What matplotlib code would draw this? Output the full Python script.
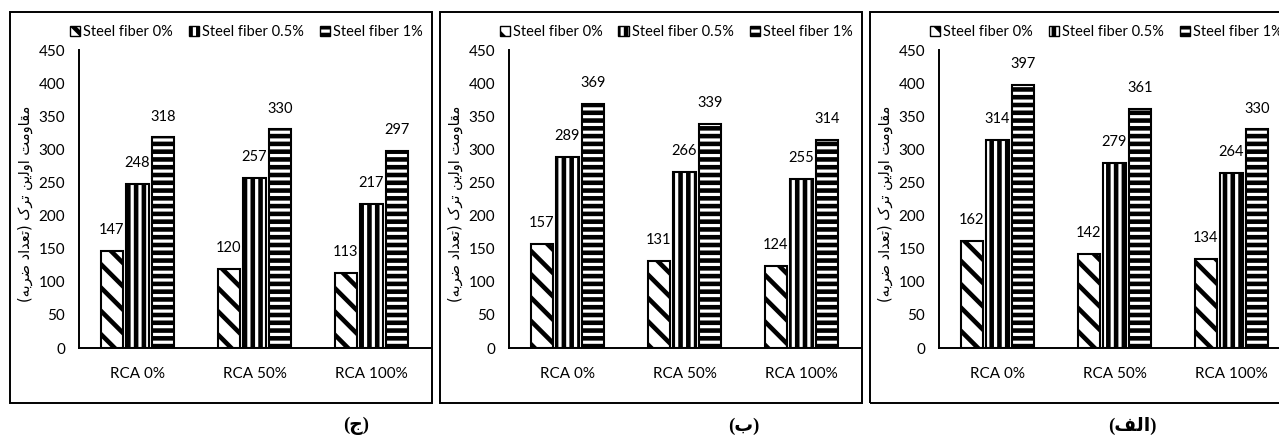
import matplotlib
matplotlib.use("Agg")
import matplotlib.pyplot as plt
from matplotlib.patches import Rectangle, Patch
import numpy as np

# render at dpi 140 so that the hatch spacing gets close to the original;
# all point sizes are scaled by S to keep the pixel sizes
DPI = 140
S = 100 / DPI

plt.rcParams['font.family'] = ['Lato', 'DejaVu Sans']
plt.rcParams['hatch.linewidth'] = 3.3 * S

# categories and series
categories = ["RCA 0%", "RCA 50%", "RCA 100%"]
series_names = ["Steel fiber 0%", "Steel fiber 0.5%", "Steel fiber 1%"]

# panel (ج) - left
panel_c_0 = [147, 120, 113]
panel_c_05 = [248, 257, 217]
panel_c_1 = [318, 330, 297]
# panel (ب) - middle
panel_b_0 = [157, 131, 124]
panel_b_05 = [289, 266, 255]
panel_b_1 = [369, 339, 314]
# panel (الف) - right
panel_a_0 = [162, 142, 134]
panel_a_05 = [314, 279, 264]
panel_a_1 = [397, 361, 330]

# Persian texts written in visual order with presentation forms
ylabel_txt = ("(" + "\uFEEA\uFE91\uFEAE\uFEBF" + " " + "\uFEA9\uFE8D\uFEAA\uFECC\uFE97" + ")"
              + " " + "\uFB8E\uFEAE\uFE97" + " " + "\uFEE6\uFBFE\uFEDF\uFEED\uFE8D"
              + " " + "\uFE96\uFEE3\uFEED\uFE8E\uFED8\uFEE3")
captions = ["(\uFE9D)", "(\uFE8F)", "(\uFED2\uFEDF\uFE8D)"]
caption_x = [356, 744, 1132]

panels = [
    (panel_c_0, panel_c_05, panel_c_1),
    (panel_b_0, panel_b_05, panel_b_1),
    (panel_a_0, panel_a_05, panel_a_1),
]
hatches = ['\\\\', '|||', '---']

W, H = 1279, 439
fig = plt.figure(figsize=(W / DPI, H / DPI), dpi=DPI)

x = np.arange(len(categories))
bar_w = 0.19
step = 0.22

for i, (s0, s05, s1) in enumerate(panels):
    off = i * 430
    # frame around each panel
    fig.patches.append(Rectangle(((10 + off) / W, 1 - 403 / H), 422 / W, 391 / H,
                                 transform=fig.transFigure, fill=False,
                                 edgecolor='black', linewidth=1.4 * S))
    ax = fig.add_axes([(79 + off) / W, 1 - 348 / H, 351 / W, 298 / H])
    for j, vals in enumerate([s0, s05, s1]):
        bars = ax.bar(x + (j - 1) * step, vals, bar_w, color='white',
                      edgecolor='black', linewidth=1.5 * S, hatch=hatches[j])
        for b, v in zip(bars, vals):
            ax.annotate(str(v), (b.get_x() + b.get_width() / 2, v),
                        xytext=(0, 15 * S), textcoords='offset points',
                        ha='center', va='center', fontsize=10.5 * S)
    ax.set_xlim(-0.5, 2.5)
    ax.set_ylim(0, 450)
    ax.set_yticks(range(0, 451, 50))
    ax.set_xticks(x)
    ax.set_xticklabels(categories)
    ax.tick_params(axis='both', length=0, labelsize=11 * S)
    ax.tick_params(axis='y', pad=10 * S)
    ax.tick_params(axis='x', pad=14 * S)
    for sp in ['top', 'right']:
        ax.spines[sp].set_visible(False)
    ax.spines['left'].set_linewidth(1.4 * S)
    ax.spines['bottom'].set_linewidth(1.4 * S)

    handles = [Patch(facecolor='white', edgecolor='black', hatch=h, linewidth=1.0 * S)
               for h in hatches]
    fig.legend(handles, series_names, loc='center',
               bbox_to_anchor=((246 + off) / W, 1 - 32 / H), ncol=3, frameon=False,
               fontsize=10.5 * S, handlelength=0.7, handleheight=0.7,
               handletextpad=0.2, columnspacing=1.1)

    fig.text((25 + off) / W, 1 - 204 / H, ylabel_txt, rotation=90,
             ha='center', va='center', fontsize=10.5 * S, family=['DejaVu Sans'])
    fig.text(caption_x[i] / W, 1 - 426 / H, captions[i], ha='center', va='center',
             fontsize=13.5 * S, fontweight='bold',
             family=['Liberation Serif', 'DejaVu Sans'])

fig.savefig('out.png', dpi=DPI)
